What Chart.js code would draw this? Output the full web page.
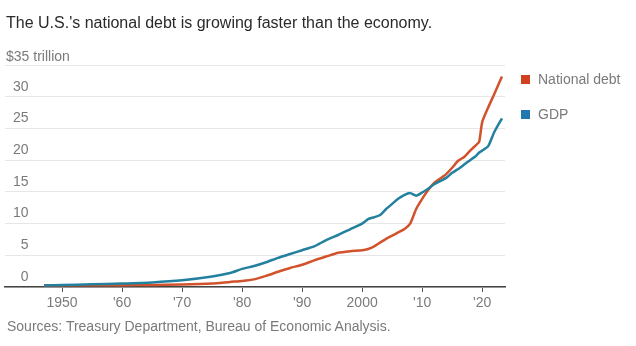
<!DOCTYPE html>
<html>
<head>
<meta charset="utf-8">
<script src="https://cdn.jsdelivr.net/npm/chart.js@4"></script>
<style>
  body { margin: 0; background: #fff; font-family: "Liberation Sans", Arial, sans-serif; }
  #wrap { position: relative; width: 636px; height: 346px; overflow: hidden; }
  #wrap canvas { position: absolute; left: 0; top: 0; }
  .txt { position: absolute; line-height: 1; white-space: nowrap; }
  #title { left: 6px; top: 15px; font-size: 16px; color: #2a2a2a; }
  #unit { left: 6px; top: 49px; font-size: 14px; color: #7a7a7a; }
  #source { left: 7px; top: 319px; font-size: 14px; color: #7a7a7a; }
  .key { position: absolute; width: 9px; height: 9px; }
  .lab { font-size: 14px; color: #7a7a7a; }
</style>
</head>
<body>
<div id="wrap">
  <canvas id="chart" width="636" height="346"></canvas>
  <div class="txt" id="title">The U.S.'s national debt is growing faster than the economy.</div>
  <div class="txt" id="unit">$35 trillion</div>
  <div class="txt" id="source">Sources: Treasury Department, Bureau of Economic Analysis.</div>
  <div class="key" style="left:521px; top:75px; background:#d2411f;"></div>
  <div class="txt lab" style="left:538px; top:72px;">National debt</div>
  <div class="key" style="left:521px; top:110px; background:#1f78ae;"></div>
  <div class="txt lab" style="left:538px; top:107px;">GDP</div>
</div>
<script>
// ---------------------------
//   DATOS (billones de US$)
// ---------------------------
const years = [1947, 1950, 1955, 1960, 1965, 1970, 1975, 1978, 1980, 1982, 1984, 1986,
  1988, 1990, 1992, 1994, 1996, 1998, 2000, 2001, 2002, 2003, 2004, 2005, 2006, 2007,
  2008, 2009, 2010, 2011, 2012, 2013, 2014, 2015, 2016, 2017, 2018, 2019, 2019.5, 2020,
  2021, 2022, 2023.3];

const debtValues = [0.26, 0.26, 0.27, 0.29, 0.32, 0.38, 0.54, 0.8, 0.95, 1.2, 1.75, 2.4,
  3.0, 3.5, 4.2, 4.8, 5.4, 5.65, 5.8, 6.0, 6.4, 7.0, 7.6, 8.1, 8.6, 9.1,
  10.0, 12.3, 13.9, 15.3, 16.4, 17.1, 17.8, 18.8, 19.9, 20.5, 21.5, 22.4, 22.9, 26.0,
  28.3, 30.4, 33.2];

const gdpValues = [0.25, 0.3, 0.42, 0.55, 0.72, 1.05, 1.65, 2.2, 2.85, 3.3, 3.9, 4.6,
  5.2, 5.8, 6.4, 7.4, 8.2, 9.1, 10.0, 10.7, 11.0, 11.35, 12.3, 13.1, 13.9, 14.5,
  14.8, 14.4, 14.9, 15.5, 16.2, 16.7, 17.2, 18.0, 18.6, 19.3, 20.0, 20.7, 21.2, 21.5,
  22.2, 24.4, 26.6];

const xTickYears  = [1950, 1960, 1970, 1980, 1990, 2000, 2010, 2020];
const xTickLabels = ["1950", "'60", "'70", "'80", "'90", "2000", "'10", "'20"];
const yTickValues = [0, 5, 10, 15, 20, 25, 30, 35];

const toPoints = (vals) => vals.map((v, i) => ({ x: years[i], y: v }));

Chart.defaults.font.family = '"Liberation Sans", Arial, sans-serif';
Chart.defaults.font.size = 14;
Chart.defaults.color = "#7a7a7a";

const ctx = document.getElementById("chart").getContext("2d");

const chart = new Chart(ctx, {
  type: "line",
  data: {
    datasets: [
      {
        label: "GDP",
        data: toPoints(gdpValues),
        borderColor: "#23809f",
        borderWidth: 2.5,
        pointRadius: 0,
        tension: 0.2,
        order: 1
      },
      {
        label: "National debt",
        data: toPoints(debtValues),
        borderColor: "#d2522b",
        borderWidth: 2.5,
        pointRadius: 0,
        tension: 0.2,
        order: 2
      }
    ]
  },
  options: {
    responsive: false,
    animation: false,
    layout: { padding: { left: 5, right: 131, top: 65, bottom: 29 } },
    plugins: {
      legend: { display: false },
      tooltip: { enabled: false }
    },
    scales: {
      x: {
        type: "linear",
        min: 1940.5,
        max: 2023.8,
        afterBuildTicks: (s) => { s.ticks = xTickYears.map(v => ({ value: v })); },
        afterFit: (s) => { s.height = 30; },
        ticks: {
          padding: 3,
          maxRotation: 0,
          callback: (v, i) => xTickLabels[i]
        },
        grid: {
          drawOnChartArea: false,
          drawTicks: true,
          tickLength: 5,
          color: "#555"
        },
        border: { display: true, color: "#444", width: 1.5 }
      },
      y: {
        min: 0,
        max: 35,
        afterBuildTicks: (s) => { s.ticks = yTickValues.map(v => ({ value: v })); },
        afterFit: (s) => { s.width = 0; },
        ticks: {
          mirror: true,
          crossAlign: "far",
          padding: 8,
          labelOffset: -10,
          callback: (v) => (v === 35 ? "" : String(v))
        },
        grid: { color: "#e6e6e6", lineWidth: 1, drawTicks: false },
        border: { display: false }
      }
    }
  }
});
</script>
</body>
</html>
